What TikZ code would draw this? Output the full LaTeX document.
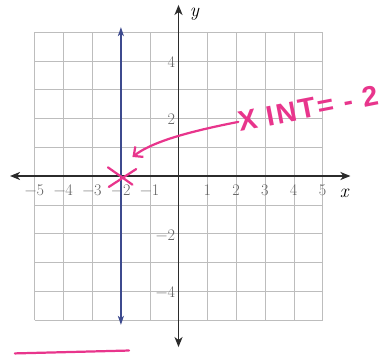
\documentclass[tikz,border=0pt]{standalone}
\usepackage{fontspec}
\newfontfamily\handfont[LetterSpace=7]{Liberation Sans}
\usetikzlibrary{arrows.meta}
\definecolor{gridgray}{HTML}{BDBDBD}
\definecolor{axisdark}{HTML}{2B2B2B}
\definecolor{lineblue}{HTML}{3D4A8E}
\definecolor{inkpink}{HTML}{E8358C}

\begin{document}
\begin{tikzpicture}[x=1cm, y=1cm,
    gridline/.style={draw=gridgray, line width=0.4pt},
    axis/.style={draw=axisdark, line width=1.1pt, {Stealth[length=10pt, width=8pt, inset=3pt]}-{Stealth[length=10pt, width=8pt, inset=3pt]}},
    tick/.style={font=\fontsize{16}{16}\selectfont, text=axisdark!75, inner sep=1pt},
    ink/.style={draw=inkpink, line width=2.2pt, line cap=round, line join=round}]
  \useasboundingbox (-6.198,-6.181) rectangle (7.378,6.111);
  % grid
  \draw[gridline] (-5,-5) grid (5,5);
  % axes
  \coordinate (xleft) at (-5.85,0);
  \coordinate (xright) at (5.97,0);
  \coordinate (ybottom) at (0,-5.94);
  \coordinate (ytop) at (0,5.94);
  \draw[axis] (xleft) -- (xright);
  \draw[axis] (ybottom) -- (ytop);
  \node[font=\fontsize{19}{19}\selectfont\itshape] (ylab) at (0.55,5.6) {y};
  \node[font=\fontsize{19}{19}\selectfont\itshape] (xlab) at (5.75,-0.6) {x};
  \foreach \n/\t in {-5/−5,-4/−4,-3/−3,-2/−2,-1/−1,1/1,2/2,3/3,4/4,5/5}
    \node[tick] (xt\n) at (\n,-0.5) {\t};
  \foreach \n/\t in {-4/−4,-2/−2,2/2,4/4}
    \node[tick, anchor=east] (yt\n) at (-0.08,\n-0.04) {\t};
  % the line x = -2
  \coordinate (vbottom) at (-2,-5.17);
  \coordinate (vtop) at (-2,5.17);
  \draw[draw=lineblue, line width=1.3pt, {Stealth[length=9pt, width=6pt, inset=2.5pt]}-{Stealth[length=9pt, width=6pt, inset=2.5pt]}] (vbottom) -- (vtop);
  % handwritten note
  \node[text=inkpink, font=\handfont\bfseries\fontsize{28}{28}\selectfont, rotate=11, inner sep=0pt] (xint) at (4.5,2.35) {X INT= - 2};
  \coordinate (xcut) at (-2,0);
  \coordinate (hooktip) at (-1.6,0.66);
  \draw[ink, -{Straight Barb[length=7pt, width=13pt]}] (xint.west) .. controls (0.4,1.55) and (-0.9,1.2) .. (hooktip);
  \draw[ink] (xcut) ++(-0.45,0.3) -- ++(0.85,-0.6);
  \draw[ink] (xcut) ++(-0.42,-0.38) -- ++(0.95,0.62);
  \coordinate (boxleft) at (-5.68,-6.16);
  \coordinate (boxright) at (-1.72,-6.06);
  \draw[ink] (boxleft) -- (boxright);
\end{tikzpicture}
\end{document}
